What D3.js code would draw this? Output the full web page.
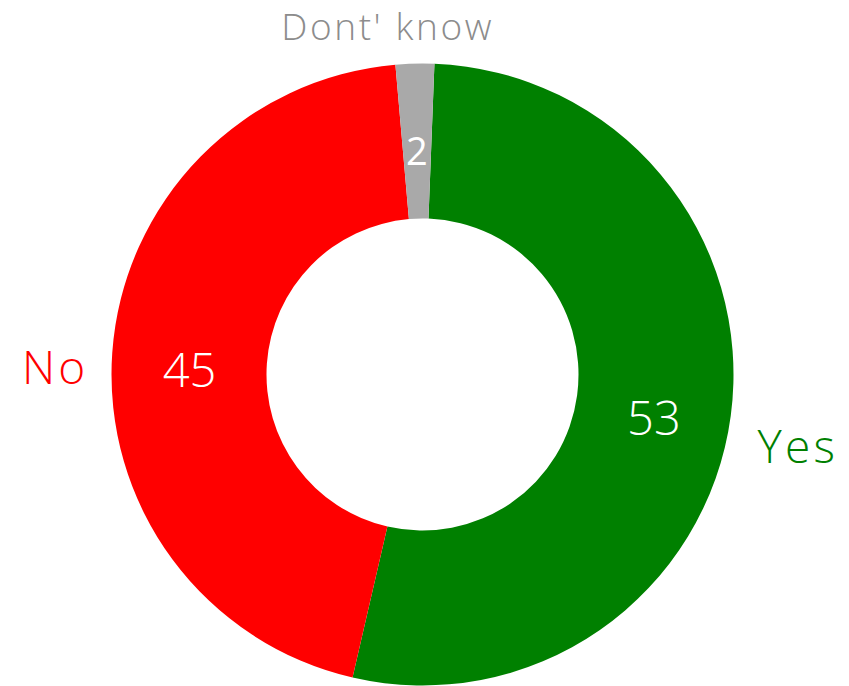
<!DOCTYPE html>
<html>
<head>
<meta charset="utf-8">
<script src="https://cdn.jsdelivr.net/npm/d3@7"></script>
<style>
  html, body { margin: 0; padding: 0; background: #fff; }
  svg text { font-family: "Open Sans", Lato, sans-serif; font-weight: 300; }
</style>
</head>
<body>
<svg id="chart" width="849" height="686"></svg>
<script>
// Survey answers
const answers = ["Yes", "No", "Dont' know"];
const counts = [53, 45, 2];
const sliceColors = ["#008000", "#ff0000", "#a9a9a9"];
const nameColors = ["#008000", "#ff0000", "#8c8c8c"];

const width = 849, height = 686;
const cx = 422.5, cy = 374.5;
const outerR = 311, innerR = 156;
const rotation = 2.2 * Math.PI / 180;

const svg = d3.select("#chart");
const g = svg.append("g").attr("transform", `translate(${cx},${cy})`);

const data = answers.map((a, i) => ({ name: a, value: counts[i], i }));
const total = d3.sum(counts);

const pie = d3.pie()
  .value(d => d.value)
  .sort(null)
  .startAngle(rotation)
  .endAngle(rotation + 2 * Math.PI);

const arc = d3.arc().innerRadius(innerR).outerRadius(outerR);
const arcs = pie(data);

g.selectAll("path.slice")
  .data(arcs)
  .join("path")
  .attr("class", "slice")
  .attr("d", arc)
  .attr("fill", d => sliceColors[d.data.i]);

// values inside the ring
g.selectAll("text.value")
  .data(arcs)
  .join("text")
  .attr("class", "value")
  .attr("x", d => arc.centroid(d)[0])
  .attr("y", d => arc.centroid(d)[1])
  .attr("dy", "0.62em")
  .attr("text-anchor", "middle")
  .attr("fill", "#fff")
  .style("font-size", d => (d.data.value / total < 0.05 ? 38 : 47) + "px")
  .style("font-weight", d => (d.data.value / total < 0.05 ? 400 : 300))
  .text(d => d.data.value);

// category names outside the ring
const pad = 27;
g.selectAll("text.name")
  .data(arcs)
  .join("text")
  .attr("class", "name")
  .attr("fill", d => nameColors[d.data.i])
  .style("letter-spacing", "0.07em")
  .text(d => d.data.name)
  .each(function (d) {
    const mid = (d.startAngle + d.endAngle) / 2;
    const r = outerR + pad;
    const s = Math.sin(mid), c = -Math.cos(mid);
    const x = r * s, y = r * c;
    const t = d3.select(this);
    if (Math.abs(s) < 0.5) {
      const fs = 37;
      t.style("font-size", fs + "px").attr("text-anchor", "middle");
      const w = this.getComputedTextLength();
      t.attr("x", x + Math.sign(s) * w / 8).attr("y", y + (c < 0 ? 3 : fs));
    } else {
      const fs = 46;
      t.style("font-size", fs + "px")
        .attr("text-anchor", s > 0 ? "start" : "end")
        .attr("x", s > 0 ? x : x + 0.07 * fs)
        .attr("y", 1.15 * y + 0.8 * fs);
    }
  });
</script>
</body>
</html>
